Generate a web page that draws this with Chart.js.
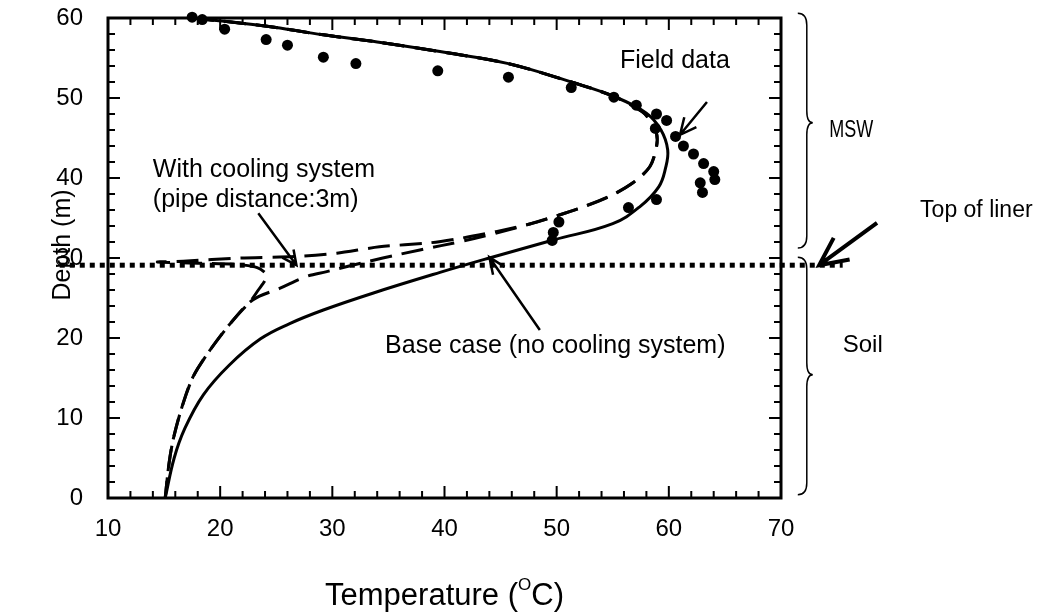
<!DOCTYPE html>
<html>
<head>
<meta charset="utf-8">
<script src="https://cdn.jsdelivr.net/npm/chart.js@4.4.0/dist/chart.umd.min.js"></script>
<style>
  html, body { margin: 0; padding: 0; background: #fff; }
  #wrap { width: 1042px; height: 614px; }
</style>
</head>
<body>
<div id="wrap"><canvas id="chart" width="1042" height="614"></canvas></div>
<script>
const xTicks = [10, 20, 30, 40, 50, 60, 70];
const yTicks = [0, 10, 20, 30, 40, 50, 60];

// Field data (dots)
const fieldTemp = [17.5, 18.4, 20.4, 24.1, 26.0, 29.2, 32.1, 39.4, 45.7, 51.3, 55.1, 57.1, 58.9, 59.8, 58.8, 60.6, 61.3, 62.2, 63.1, 64.0, 64.1, 62.8, 63.0, 58.9, 56.4, 50.2, 49.7, 49.6];
const fieldDepth = [60.1, 59.8, 58.6, 57.3, 56.6, 55.1, 54.3, 53.4, 52.6, 51.3, 50.1, 49.1, 48.0, 47.2, 46.2, 45.2, 44.0, 43.0, 41.8, 40.8, 39.8, 39.4, 38.2, 37.3, 36.3, 34.5, 33.2, 32.2];

// Base case (no cooling system), solid
const baseTemp = [17.5, 24.0, 29.2, 34.0, 39.6, 45.7, 51.3, 55.1, 58.0, 59.3, 59.9, 59.7, 59.1, 57.4, 55.0, 49.7, 44.0, 39.6, 33.6, 29.2, 26.2, 23.6, 20.8, 18.5, 16.85, 15.9, 15.1];
const baseDepth = [60.0, 59.0, 57.9, 57.0, 55.8, 54.3, 52.0, 50.2, 48.1, 46.0, 43.5, 41.2, 38.9, 36.4, 34.3, 32.25, 30.0, 28.2, 25.6, 23.5, 21.8, 19.9, 16.6, 12.9, 8.7, 5.0, 0];

// With cooling system, dashed (with the cold spike at the pipe)
const coolTemp = [17.5, 24.0, 29.2, 34.0, 39.6, 45.7, 51.3, 55.1, 57.6, 58.3, 58.9, 58.9, 58.3, 56.8, 54.7, 52.1, 50.3, 47.6, 44.6, 41.6, 38.7, 34.2, 30.4, 26.8, 21.8, 16.7, 14.4, 18.0, 21.5, 23.3, 24.1, 24.0, 23.4, 22.8, 20.9, 19.1, 17.6, 16.6, 15.8, 15.4, 15.1];
const coolDepth = [60.0, 59.0, 57.9, 57.0, 55.8, 54.3, 52.0, 50.2, 48.3, 47.25, 45.6, 43.9, 41.4, 39.4, 37.7, 36.25, 35.4, 34.25, 33.3, 32.5, 31.9, 31.4, 30.6, 30.2, 30.0, 29.6, 29.5, 29.35, 29.2, 28.8, 28.0, 27.2, 26.0, 24.8, 21.8, 18.5, 15.2, 11.4, 7.25, 3.9, 0];

// second dashed profile
const cool2Temp = [17.5, 24.0, 29.2, 34.0, 39.6, 45.7, 51.3, 55.1, 57.6, 58.3, 58.9, 58.9, 58.3, 56.8, 54.7, 52.1, 50.3, 47.6, 44.0, 41.6, 37.8, 34.5, 31.5, 29.5, 27.7, 25.3, 22.9, 20.9, 19.1, 17.6, 16.6, 15.8, 15.4, 15.1];
const cool2Depth = [60.0, 59.0, 57.9, 57.0, 55.8, 54.3, 52.0, 50.2, 48.3, 47.25, 45.6, 43.9, 41.4, 39.4, 37.7, 36.25, 35.4, 34.25, 32.9, 32.1, 31.0, 30.0, 29.0, 28.3, 27.7, 26.2, 24.75, 21.8, 18.5, 15.2, 11.4, 7.25, 3.9, 0];

// Top of liner (dotted)
const linerTemp = [5.7, 75.5];
const linerDepth = [29.1, 29.1];

const FONT = "'Liberation Sans', Arial, Helvetica, sans-serif";
const pts = (xs, ys) => xs.map((x, i) => ({ x, y: ys[i] }));

function arrow(ctx, x1, y1, x2, y2, width, head, ang) {
    ctx.save();
    ctx.lineWidth = width;
    ctx.lineCap = 'butt';
    ctx.beginPath();
    ctx.moveTo(x1, y1);
    ctx.lineTo(x2, y2);
    const a = Math.atan2(y1 - y2, x1 - x2);
    ctx.moveTo(x2 + head * Math.cos(a + ang), y2 + head * Math.sin(a + ang));
    ctx.lineTo(x2, y2);
    ctx.lineTo(x2 + head * Math.cos(a - ang), y2 + head * Math.sin(a - ang));
    ctx.stroke();
    ctx.restore();
}

function brace(ctx, sx, top, tip, bottom) {
    // curly brace opening to the left, pointing right at tip
    ctx.beginPath();
    ctx.moveTo(sx - 9, top);
    ctx.quadraticCurveTo(sx, top, sx, top + 12);
    ctx.lineTo(sx, tip - 12);
    ctx.quadraticCurveTo(sx, tip, sx + 6, tip);
    ctx.quadraticCurveTo(sx, tip, sx, tip + 12);
    ctx.lineTo(sx, bottom - 12);
    ctx.quadraticCurveTo(sx, bottom, sx - 9, bottom);
    ctx.stroke();
}

const framePlugin = {
    id: 'frame',
    beforeDatasetsDraw(chart) {
        const { ctx, chartArea: a, scales: { x, y } } = chart;
        ctx.save();
        ctx.strokeStyle = '#000';
        ctx.lineWidth = 2;
        ctx.beginPath();
        for (let t = 10; t <= 70; t += 2) {
            const px = x.getPixelForValue(t);
            const len = t % 10 === 0 ? 12 : 7;
            ctx.moveTo(px, a.bottom); ctx.lineTo(px, a.bottom - len);
            ctx.moveTo(px, a.top); ctx.lineTo(px, a.top + len);
        }
        for (let d = 0; d <= 60; d += 2) {
            const py = y.getPixelForValue(d);
            const len = d % 10 === 0 ? 12 : 7;
            ctx.moveTo(a.left, py); ctx.lineTo(a.left + len, py);
            ctx.moveTo(a.right, py); ctx.lineTo(a.right - len, py);
        }
        ctx.stroke();
        ctx.lineWidth = 3;
        ctx.strokeRect(a.left, a.top, a.right - a.left, a.bottom - a.top);
        ctx.restore();
    },
    afterDraw(chart) {
        const { ctx, chartArea: a, scales: { x, y } } = chart;
        const X = v => x.getPixelForValue(v);
        const Y = v => y.getPixelForValue(v);
        ctx.save();
        ctx.fillStyle = '#000';
        ctx.strokeStyle = '#000';
        ctx.textBaseline = 'alphabetic';
        ctx.textAlign = 'left';

        // annotations inside plot
        ctx.font = '25px ' + FONT;
        ctx.fillText('With cooling system', X(14.0), Y(40.1));
        ctx.fillText('(pipe distance:3m)', X(14.0), Y(36.4));
        ctx.fillText('Field data', X(55.65), Y(53.75));
        ctx.fillText('Base case (no cooling system)', X(34.7), Y(18.1));

        arrow(ctx, X(23.4), Y(35.6), X(26.8), Y(29.1), 2.5, 16, 0.45);
        arrow(ctx, X(63.4), Y(49.5), X(61.0), Y(45.4), 2.5, 18, 0.45);
        arrow(ctx, X(48.5), Y(21.0), X(44.0), Y(30.1), 2.5, 18, 0.4);

        // right-hand side: braces and labels
        ctx.lineWidth = 1.5;
        const sx = X(72.3);
        brace(ctx, sx, Y(60.6), Y(46.9), Y(31.25));
        brace(ctx, sx, Y(30.1), Y(15.4), Y(0.4));

        ctx.font = '24px ' + FONT;
        ctx.save();
        ctx.translate(X(74.3), Y(45.1));
        ctx.scale(0.75, 1);
        ctx.fillText('MSW', 0, 0);
        ctx.restore();
        ctx.fillText('Soil', X(75.5), Y(18.25));
        ctx.font = '23px ' + FONT;
        ctx.fillText('Top of liner', X(82.4), Y(35.1));
        arrow(ctx, X(78.56), Y(34.4), X(73.4), Y(29.1), 4, 31, 0.45);

        // axis titles
        ctx.font = '25px ' + FONT;
        ctx.save();
        ctx.translate(63, 245);
        ctx.rotate(-Math.PI / 2);
        ctx.textAlign = 'center';
        ctx.textBaseline = 'middle';
        ctx.fillText('Depth (m)', 0, 0);
        ctx.restore();

        const big = '31px ' + FONT, small = '17px ' + FONT;
        const p1 = 'Temperature (', p2 = 'O', p3 = 'C)';
        ctx.font = big; const w1 = ctx.measureText(p1).width, w3 = ctx.measureText(p3).width;
        ctx.font = small; const w2 = ctx.measureText(p2).width;
        let tx = (a.left + a.right) / 2 - (w1 + w2 + w3) / 2;
        const base = 605;
        ctx.font = big; ctx.fillText(p1, tx, base); tx += w1;
        ctx.font = small; ctx.fillText(p2, tx, base - 15); tx += w2;
        ctx.font = big; ctx.fillText(p3, tx, base);
        ctx.restore();
    }
};

new Chart(document.getElementById('chart'), {
    type: 'scatter',
    data: {
        datasets: [
            {
                label: 'Field data',
                data: pts(fieldTemp, fieldDepth),
                showLine: false,
                pointRadius: 5.5,
                pointBackgroundColor: '#000',
                pointBorderWidth: 0,
                clip: false
            },
            {
                label: 'Base case',
                data: pts(baseTemp, baseDepth),
                showLine: true,
                borderColor: '#000',
                borderWidth: 3,
                pointRadius: 0,
                tension: 0.4,
                clip: false
            },
            {
                label: 'With cooling system',
                data: pts(coolTemp, coolDepth),
                showLine: true,
                borderColor: '#000',
                borderWidth: 3,
                borderDash: [22, 10],
                pointRadius: 0,
                tension: 0.25,
                clip: false
            },
            {
                label: 'With cooling system 2',
                data: pts(cool2Temp, cool2Depth),
                showLine: true,
                borderColor: '#000',
                borderWidth: 3,
                borderDash: [22, 10],
                pointRadius: 0,
                tension: 0.35,
                clip: false
            },
            {
                label: 'Top of liner',
                data: pts(linerTemp, linerDepth),
                showLine: true,
                borderColor: '#000',
                borderWidth: 5,
                borderDash: [5, 5],
                borderCapStyle: 'butt',
                pointRadius: 0,
                tension: 0,
                clip: false
            }
        ]
    },
    options: {
        responsive: false,
        animation: false,
        devicePixelRatio: 1,
        layout: { padding: { left: 0, right: 261, top: 18, bottom: 0 } },
        plugins: {
            legend: { display: false },
            tooltip: { enabled: false }
        },
        scales: {
            x: {
                type: 'linear',
                min: 10,
                max: 70,
                afterFit(scale) { scale.height = 116; scale.paddingLeft = 0; scale.paddingRight = 0; },
                afterBuildTicks(scale) { scale.ticks = xTicks.map(v => ({ value: v })); },
                grid: { display: false, drawTicks: false },
                border: { display: false },
                ticks: { color: '#000', padding: 17, font: { family: FONT, size: 24 } }
            },
            y: {
                type: 'linear',
                min: 0,
                max: 60,
                afterFit(scale) { scale.width = 108; scale.paddingTop = 0; scale.paddingBottom = 0; },
                afterBuildTicks(scale) { scale.ticks = yTicks.map(v => ({ value: v })); },
                grid: { display: false, drawTicks: false },
                border: { display: false },
                ticks: { color: '#000', padding: 25, font: { family: FONT, size: 24 } }
            }
        }
    },
    plugins: [framePlugin]
});
</script>
</body>
</html>
